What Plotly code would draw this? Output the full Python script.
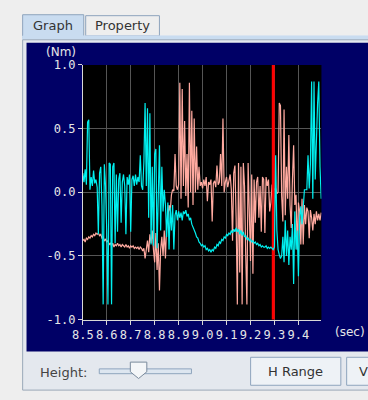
import plotly.graph_objects as go

# ---------------- data ----------------
sample_start = 8.5      # sec
sample_step = 0.005     # sec
cursor_time = 9.295     # red cursor position (sec)

x_tick_vals = [8.5, 8.6, 8.7, 8.8, 8.9, 9.0, 9.1, 9.2, 9.3, 9.4]
x_tick_text = ["8.5", "8.6", "8.7", "8.8", "8.9", "9.0", "9.1", "9.2", "9.3", "9.4"]
y_tick_vals = [-1.0, -0.5, 0.0, 0.5, 1.0]
y_tick_text = ["-1.0", "-0.5", "0.0", "0.5", "1.0"]

torque_cyan = [
    0.15, 0.08, 0.18, 0.06, 0.55, 0.57, 0.02, 0.12, 0.05, 0.17,
    0.07, 0.10, 0.04, -0.33, 0.15, 0.20, -0.10, -0.88, 0.22, 0.05,
    -0.30, -0.88, 0.23, 0.22, -0.88, 0.20, 0.23, -0.40, 0.14, -0.31,
    0.10, 0.15, -0.24, 0.08, 0.14, 0.05, -0.33, 0.12, 0.06, 0.14,
    -0.31, 0.10, 0.13, 0.05, 0.14, 0.06, 0.12, 0.08, 0.29, 0.05,
    0.02, 0.24, 0.70, 0.05, 0.66, -0.20, 0.62, -0.41, 0.20, -0.42,
    0.30, 0.34, -0.44, 0.15, 0.37, -0.30, 0.20, -0.15, 0.02, -0.10,
    -0.35, -0.08, -0.45, -0.12, -0.30, -0.10, -0.45, -0.18, -0.14, -0.22,
    -0.15, -0.20, -0.16, -0.22, -0.15, -0.17, -0.14, -0.19, -0.17, -0.22,
    -0.20, -0.25, -0.27, -0.30, -0.32, -0.35, -0.36, -0.39, -0.40, -0.42,
    -0.41, -0.43, -0.42, -0.45, -0.44, -0.46, -0.45, -0.47, -0.45, -0.46,
    -0.43, -0.44, -0.41, -0.42, -0.39, -0.40, -0.37, -0.38, -0.35, -0.36,
    -0.33, -0.34, -0.32, -0.33, -0.30, -0.32, -0.29, -0.31, -0.28, -0.31,
    -0.29, -0.33, -0.30, -0.34, -0.31, -0.35, -0.34, -0.37, -0.36, -0.38,
    -0.37, -0.39, -0.38, -0.40, -0.39, -0.41, -0.40, -0.42, -0.41, -0.43,
    -0.42, -0.43, -0.43, -0.42, -0.44, -0.43, -0.44, -0.43, -0.44, -0.45,
    -0.43, 0.29, -0.30, -0.45, -0.49, -0.52, -0.50, -0.35, -0.55, -0.22,
    -0.50, -0.30, -0.57, -0.35, -0.45, -0.25, -0.72, -0.15, -0.45, -0.30,
    -0.66, -0.20, -0.11, -0.25, -0.12, 0.02, 0.02, 0.02, 0.29, 0.03,
    0.22, 0.87, -0.05, 0.87, 0.10, 0.45, 0.70, 0.87, 0.20, -0.05,
]

torque_salmon = [
    -0.38, -0.37, -0.39, -0.36, -0.37, -0.35, -0.36, -0.34, -0.35, -0.33,
    -0.34, -0.32, -0.33, -0.32, -0.34, -0.33, -0.36, -0.35, -0.38, -0.37,
    -0.39, -0.38, -0.41, -0.40, -0.42, -0.40, -0.43, -0.41, -0.42, -0.40,
    -0.42, -0.41, -0.43, -0.41, -0.42, -0.43, -0.41, -0.43, -0.42, -0.44,
    -0.42, -0.43, -0.42, -0.44, -0.43, -0.44, -0.43, -0.45, -0.43, -0.44,
    -0.46, -0.44, -0.52, -0.45, -0.38, -0.47, -0.33, -0.40, -0.30, -0.45,
    -0.55, -0.32, -0.61, -0.40, -0.77, -0.45, -0.35, -0.50, -0.30, -0.52,
    -0.25, -0.20, -0.10, -0.15, -0.02, 0.02, 0.01, 0.30, 0.05, 0.02,
    0.06, 0.86, -0.05, 0.81, 0.05, 0.56, -0.03, 0.30, -0.12, 0.86,
    0.00, 0.64, -0.10, 0.58, 0.00, 0.36, 0.02, 0.20, 0.05, 0.08,
    0.03, 0.10, 0.05, 0.12, -0.07, 0.08, 0.06, 0.10, -0.23, 0.07,
    0.09, 0.04, 0.21, 0.06, 0.08, 0.30, 0.05, 0.58, 0.00, 0.08,
    0.12, 0.04, 0.10, 0.14, 0.02, -0.38, 0.15, 0.21, -0.20, -0.88,
    0.23, -0.63, 0.20, -0.88, 0.23, 0.05, -0.49, -0.88, 0.23, -0.10,
    -0.54, 0.14, -0.64, 0.10, -0.24, 0.08, 0.12, -0.20, 0.05, -0.31,
    0.12, 0.10, -0.32, 0.12, 0.05, 0.10, -0.15, -0.08, 0.06, 0.04,
    0.02, 0.03, -0.01, 0.00, 0.70, 0.68, -0.03, -0.23, 0.65, -0.18,
    0.20, -0.05, 0.45, -0.10, -0.28, 0.10, 0.37, -0.10, -0.02, -0.45,
    -0.08, -0.15, -0.41, -0.05, -0.41, -0.10, -0.25, -0.12, -0.15, -0.36,
    -0.14, -0.20, -0.30, -0.17, -0.25, -0.15, -0.22, -0.17, -0.22, -0.16,
]

times = [sample_start + k * sample_step for k in range(len(torque_cyan))]

# ---------------- figure ----------------
W, H = 368, 400


def px(x):
    return x / W


def py(y):
    return 1 - y / H


fig = go.Figure()

fig.add_trace(go.Scatter(x=times, y=torque_salmon, mode="lines",
                         line=dict(color="#ffaaa0", width=1.2),
                         hoverinfo="skip", showlegend=False))
fig.add_trace(go.Scatter(x=[cursor_time, cursor_time], y=[-1.0, 1.0], mode="lines",
                         line=dict(color="#ff0000", width=3),
                         hoverinfo="skip", showlegend=False))
fig.add_trace(go.Scatter(x=times, y=torque_cyan, mode="lines",
                         line=dict(color="#00f0f0", width=1.2),
                         hoverinfo="skip", showlegend=False))

shapes = []


def rect(x0, y0, x1, y1, fill, line=None, lw=1):
    shapes.append(dict(type="rect", xref="paper", yref="paper", layer="below",
                       x0=px(x0), x1=px(x1), y0=py(y1), y1=py(y0),
                       fillcolor=fill,
                       line=dict(color=line if line else fill, width=lw if line else 0)))


# window frame / tabs
rect(12, 8, 75, 32, "#c9dcf0", "#8ea4bd")
rect(77, 9, 153, 30, "#eeeeee", "#8ea4bd")
rect(12, 30, 380, 34, "#c9dcf0", "#c9dcf0")
rect(12, 34, 380, 397, "#e4e8ee", "#9aa8b8")
rect(16, 37, 380, 357, "#000066")
# plot area
rect(74, 60, 320, 324, "#000000")
# bottom controls
rect(91, 375, 186, 380, "#dde6f0", "#8ea4bd")
rect(247, 363, 340, 392, "#eef2f6", "#8ea4bd")
rect(346, 363, 380, 392, "#eef2f6", "#8ea4bd")
shapes.append(dict(type="path", xref="paper", yref="paper", layer="above",
                   path=f"M {px(123)},{py(368)} L {px(140)},{py(368)} L {px(140)},{py(378)} "
                        f"L {px(131.5)},{py(385)} L {px(123)},{py(378)} Z",
                   fillcolor="#f4f6f8", line=dict(color="#7a8a9c", width=1)))

annotations = [
    dict(text="Graph", x=px(43), y=py(19), font=dict(size=13, color="#333333")),
    dict(text="Property", x=px(115), y=py(19), font=dict(size=13, color="#333333")),
    dict(text="(Nm)", x=px(52), y=py(47), font=dict(size=12, color="#e6e6e6")),
    dict(text="(sec)", x=px(349), y=py(337), font=dict(size=12, color="#e6e6e6")),
    dict(text="Height:", x=px(54), y=py(379), font=dict(size=13, color="#444444")),
    dict(text="H Range", x=px(293), y=py(378), font=dict(size=13, color="#333333")),
    dict(text="V", x=px(363), y=py(378), font=dict(size=13, color="#333333")),
]
for a in annotations:
    a.update(xref="paper", yref="paper", showarrow=False, xanchor="center", yanchor="middle")
    a["font"]["family"] = "DejaVu Sans"

axis_font = dict(family="DejaVu Sans Mono", size=12, color="#e6e6e6")

fig.update_layout(
    width=W, height=H, autosize=False,
    margin=dict(l=0, r=0, t=0, b=0),
    paper_bgcolor="#eeeeee",
    plot_bgcolor="rgba(0,0,0,0)",
    shapes=shapes,
    annotations=annotations,
    showlegend=False,
    xaxis=dict(domain=[px(74), px(320)], range=[8.5, 9.496],
               tickvals=x_tick_vals, ticktext=x_tick_text,
               ticks="outside", ticklen=4, tickcolor="#d8d8d8",
               showline=True, linecolor="#d8d8d8", linewidth=1,
               showgrid=True, gridcolor="#555555", gridwidth=1,
               zeroline=False, tickfont=axis_font, fixedrange=True),
    yaxis=dict(domain=[py(324), py(60)], range=[-1.0, 1.0],
               tickvals=y_tick_vals, ticktext=y_tick_text,
               ticks="outside", ticklen=4, tickcolor="#d8d8d8",
               showline=True, linecolor="#d8d8d8", linewidth=1,
               showgrid=True, gridcolor="#555555", gridwidth=1,
               zeroline=False, tickfont=axis_font, fixedrange=True),
)

fig.write_html("out.html", config={"displayModeBar": False},
               post_script="document.body.style.margin='0';document.body.style.overflow='hidden';")
